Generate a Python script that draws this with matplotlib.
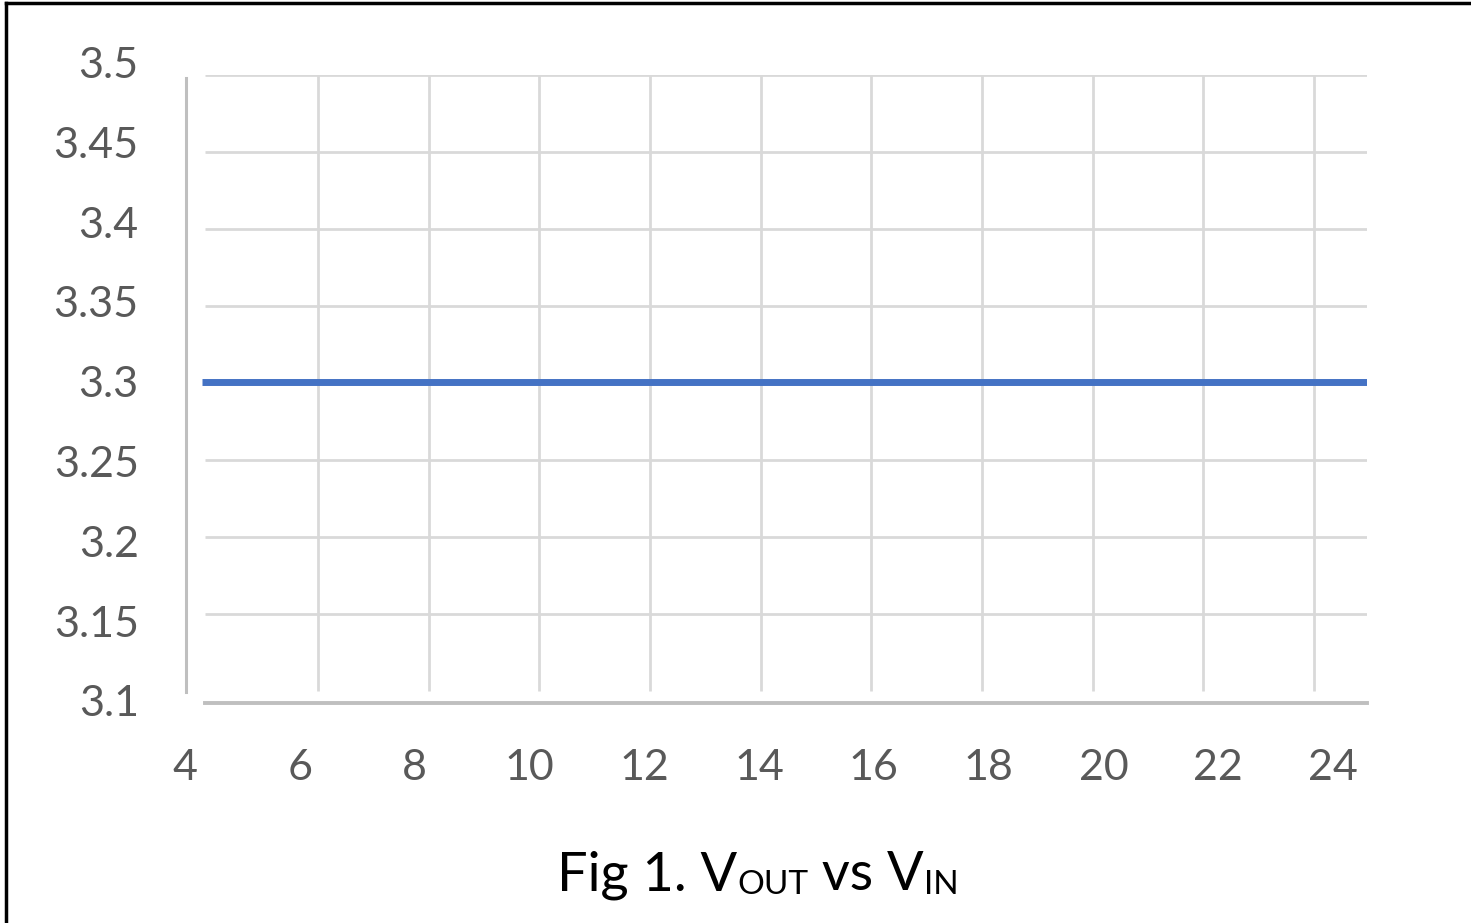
import matplotlib
matplotlib.use("Agg")
import matplotlib.pyplot as plt

# ---- data ----
vin = [4.3, 24.6]
vout = [3.3, 3.3]
x_ticks = [4, 6, 8, 10, 12, 14, 16, 18, 20, 22, 24]
x_labels = ["4", "6", "8", "10", "12", "14", "16", "18", "20", "22", "24"]
y_ticks = [3.1, 3.15, 3.2, 3.25, 3.3, 3.35, 3.4, 3.45, 3.5]
y_labels = ["3.1", "3.15", "3.2", "3.25", "3.3", "3.35", "3.4", "3.45", "3.5"]
x_grid = [6, 8, 10, 12, 14, 16, 18, 20, 22, 24]
y_grid = [3.15, 3.2, 3.25, 3.3, 3.35, 3.4, 3.45, 3.5]

FONT = ["Lato", "DejaVu Sans"]
W, H = 1471, 923
fig = plt.figure(figsize=(W / 100, H / 100), dpi=100)
fig.patch.set_facecolor("white")

L, R, T, B = 186, 1367, 75, 703
rect = [L / W, 1 - B / H, (R - L) / W, (B - T) / H]

# grid layer (the scanned chart has the grid slightly offset from the labels)
gax = fig.add_axes(rect)
gax.axis("off")
gax.vlines(x_grid, 3.1, 3.5, color="#d9d9d9", lw=2.0, zorder=1)
gax.hlines(y_grid, 19 / (R - L), 1, transform=gax.get_yaxis_transform(),
           color="#d9d9d9", lw=2.0, zorder=1)
gax.plot([0, 0], [(B - 692) / (B - T), (B - 78) / (B - T)], transform=gax.transAxes,
         color="#bfbfbf", lw=2.2, clip_on=False, zorder=2)
gax.plot([19 / (R - L), 1], [0, 0], transform=gax.transAxes,
         color="#bfbfbf", lw=2.8, clip_on=False, zorder=2)
gax.set_xlim(3.615, 24.96)
gax.set_ylim(3.0922, 3.5)

# labelled data layer (slightly larger invisible frame so end ticks fit)
L2, T2 = 150, 40
rect2 = [L2 / W, 1 - B / H, (R - L2) / W, (B - T2) / H]
lax = fig.add_axes(rect2)
lax.patch.set_alpha(0)
for s in lax.spines.values():
    s.set_visible(False)
lax.plot(vin, vout, color="#4472C4", lw=5.0, solid_capstyle="butt", zorder=3)
lax.set_xticks(x_ticks)
lax.set_xticklabels(x_labels)
lax.set_yticks(y_ticks)
lax.set_yticklabels(y_labels)
lax.set_xlim(3.3902, 24.592)
lax.set_ylim(3.0987, 3.5141)
lax.tick_params(axis="both", length=0, labelsize=31, labelcolor="#595959")
lax.tick_params(axis="y", pad=8.1)
lax.tick_params(axis="x", pad=33)
for lab in lax.get_xticklabels() + lax.get_yticklabels():
    lab.set_family(FONT)

# caption with subscripts
t1 = fig.text(557 / W, 1 - 890 / H, "Fig 1. V", fontsize=39, family=FONT,
              color="black", ha="left", va="baseline")
a2 = plt.annotate("OUT", xy=(1, 0), xycoords=t1, fontsize=24, family=FONT,
                  color="black", ha="left", va="bottom", annotation_clip=False)
a3 = plt.annotate(" vs V", xy=(1, 0), xycoords=a2, fontsize=39, family=FONT,
                  color="black", ha="left", va="bottom", annotation_clip=False)
a4 = plt.annotate("IN", xy=(1, 0), xycoords=a3, fontsize=24, family=FONT,
                  color="black", ha="left", va="bottom", annotation_clip=False)

# outer frame of the scanned figure
fig.add_artist(plt.Line2D([6 / W, 6 / W], [0, 1 - 3 / H], transform=fig.transFigure,
                          color="black", lw=2.5))
fig.add_artist(plt.Line2D([6 / W, 1], [1 - 3 / H, 1 - 3 / H], transform=fig.transFigure,
                          color="black", lw=2.5))

fig.savefig("out.png", dpi=100)
